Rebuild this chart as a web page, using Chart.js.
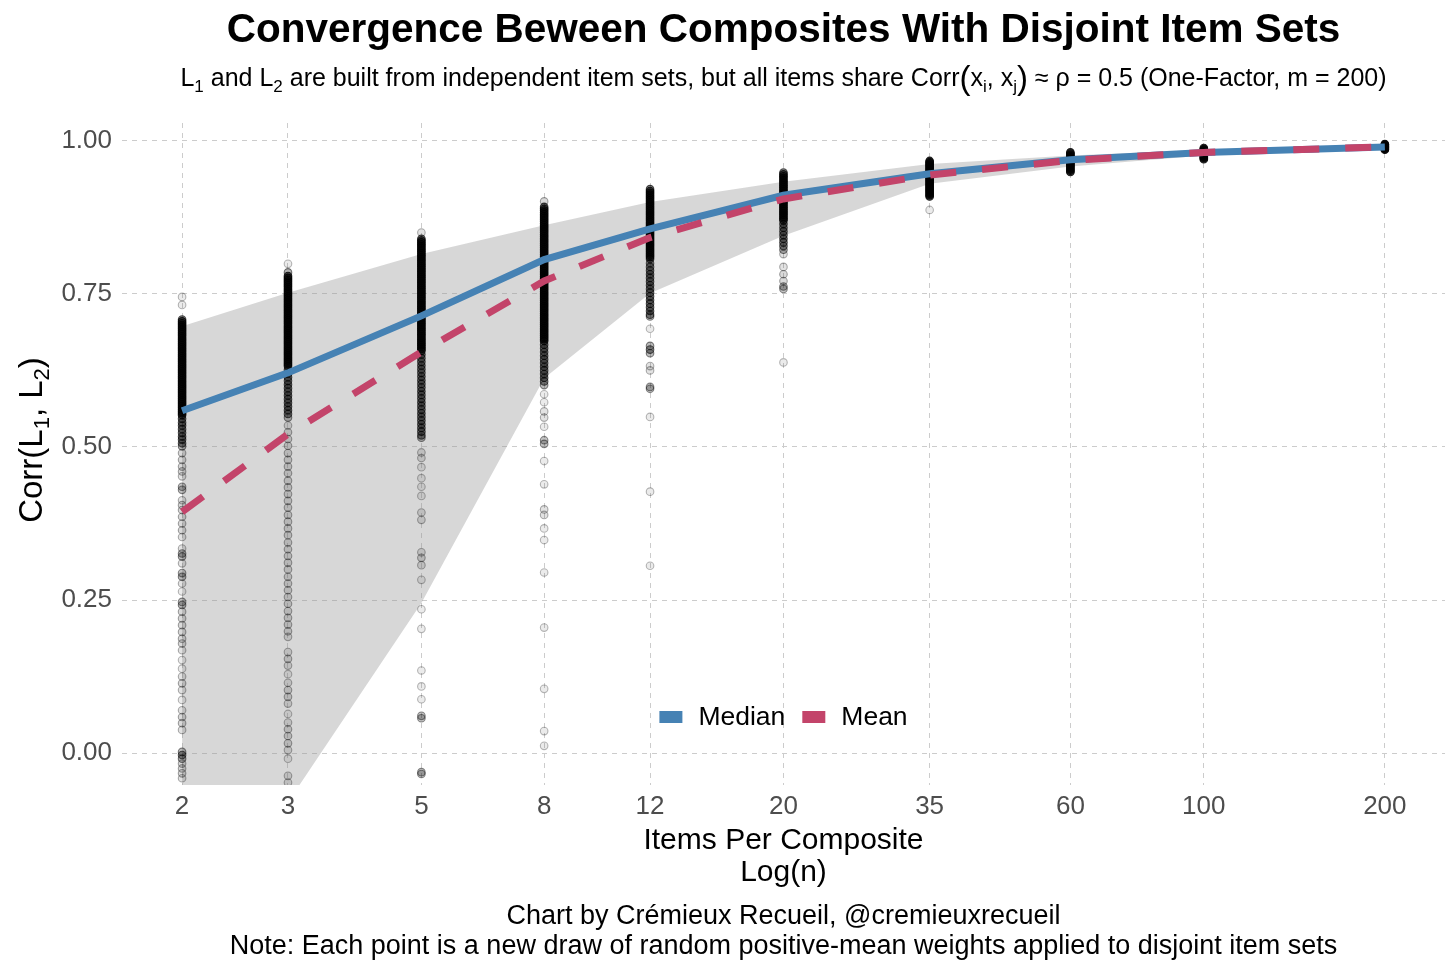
<!DOCTYPE html>
<html>
<head>
<meta charset="utf-8">
<script src="https://cdn.jsdelivr.net/npm/chart.js@4.4.1/dist/chart.umd.min.js"></script>
<style>
  html, body { margin: 0; padding: 0; background: #fff; }
  canvas { display: block; }
</style>
</head>
<body>
<canvas id="chart" width="1456" height="971"></canvas>
<script>
// Items per composite (log x axis) and the summary curves
const itemsPerComposite = [2, 3, 5, 8, 12, 20, 35, 60, 100, 200];
const medianCorr = [0.559, 0.621, 0.714, 0.806, 0.856, 0.911, 0.946, 0.969, 0.981, 0.990];
const meanCorr   = [0.394, 0.521, 0.655, 0.771, 0.842, 0.905, 0.944, 0.968, 0.981, 0.990];
const bandUpper  = [0.697, 0.752, 0.815, 0.862, 0.900, 0.933, 0.962, 0.976, 0.985, 0.993];
const bandLower  = [-0.10, -0.08, 0.245, 0.612, 0.751, 0.845, 0.930, 0.958, 0.976, 0.987];
const yTickValues = [0, 0.25, 0.5, 0.75, 1];

// Individual draws
const draws2 = [0.745, 0.732,
  0.708, 0.705, 0.702, 0.699, 0.696, 0.693, 0.690, 0.687, 0.684, 0.681, 0.678, 0.675, 0.672, 0.669, 0.666, 0.663,
  0.660, 0.657, 0.654, 0.651, 0.648, 0.645, 0.642, 0.639, 0.636, 0.633, 0.630, 0.627, 0.624, 0.621, 0.618, 0.615,
  0.612, 0.609, 0.606, 0.603, 0.600, 0.597, 0.594, 0.591, 0.588, 0.585, 0.582, 0.579, 0.576, 0.573, 0.570, 0.567,
  0.564, 0.561, 0.558, 0.555, 0.552,
  0.546, 0.540, 0.535, 0.529, 0.523, 0.517, 0.512, 0.506, 0.501,
  0.490, 0.479, 0.468, 0.460, 0.452, 0.435, 0.430, 0.413, 0.405, 0.397, 0.386, 0.375, 0.364, 0.353, 0.334, 0.326,
  0.321, 0.310, 0.294, 0.288, 0.277, 0.264, 0.247, 0.242, 0.231, 0.220, 0.209, 0.198, 0.187, 0.179, 0.168, 0.152,
  0.138, 0.125, 0.114, 0.103, 0.087, 0.070, 0.059, 0.049, 0.038, 0.002, -0.003, -0.009, -0.017, -0.025, -0.033, -0.041];

const draws3 = [0.799, 0.785,
  0.779, 0.776, 0.773, 0.770, 0.767, 0.764, 0.761, 0.758, 0.755, 0.752, 0.749, 0.746, 0.743, 0.740, 0.737, 0.734,
  0.731, 0.728, 0.725, 0.722, 0.719, 0.716, 0.713, 0.710, 0.707, 0.704, 0.701, 0.698, 0.695, 0.692, 0.689, 0.686,
  0.683, 0.680, 0.677, 0.674, 0.671, 0.668, 0.665, 0.662, 0.659, 0.656, 0.653, 0.650, 0.647, 0.644, 0.641, 0.638,
  0.635, 0.632,
  0.626, 0.620, 0.614, 0.608, 0.602, 0.596, 0.590, 0.584, 0.578, 0.572, 0.566, 0.560, 0.554, 0.548,
  0.535, 0.524, 0.513, 0.502, 0.490, 0.479, 0.468, 0.457, 0.445, 0.434, 0.423, 0.412, 0.401, 0.389, 0.378, 0.367,
  0.356, 0.344, 0.333, 0.322, 0.311, 0.300, 0.288, 0.277, 0.266, 0.255, 0.244, 0.232, 0.221, 0.210, 0.199, 0.190,
  0.165, 0.154, 0.143, 0.129, 0.115, 0.103, 0.092, 0.081, 0.064, 0.050, 0.039, 0.028, 0.016, 0.005, -0.009, -0.037, -0.048];

const draws5 = [0.850,
  0.840, 0.837, 0.834, 0.831, 0.828, 0.825, 0.822, 0.819, 0.816, 0.813, 0.810, 0.807, 0.804, 0.801, 0.798, 0.795,
  0.792, 0.789, 0.786, 0.783, 0.780, 0.777, 0.774, 0.771, 0.768, 0.765, 0.762, 0.759, 0.756, 0.753, 0.750, 0.747,
  0.744, 0.741, 0.738, 0.735, 0.732, 0.729, 0.726, 0.723, 0.720, 0.717, 0.714, 0.711, 0.708, 0.705, 0.702, 0.699,
  0.696, 0.693, 0.690, 0.687, 0.684, 0.681, 0.678, 0.675, 0.672, 0.669, 0.666, 0.663, 0.660, 0.657,
  0.651, 0.645, 0.639, 0.633, 0.627, 0.621, 0.615, 0.609, 0.603, 0.597, 0.591, 0.585, 0.579, 0.573, 0.567, 0.561,
  0.555, 0.549, 0.543, 0.537, 0.531, 0.525, 0.519, 0.515,
  0.491, 0.482, 0.467, 0.449, 0.435, 0.420, 0.393, 0.381, 0.328, 0.319, 0.307, 0.283, 0.235, 0.203, 0.135, 0.109,
  0.088, 0.061, 0.057, -0.031, -0.034];

const draws8 = [0.901,
  0.892, 0.889, 0.886, 0.883, 0.880, 0.877, 0.874, 0.871, 0.868, 0.865, 0.862, 0.859, 0.856, 0.853, 0.850, 0.847,
  0.844, 0.841, 0.838, 0.835, 0.832, 0.829, 0.826, 0.823, 0.820, 0.817, 0.814, 0.811, 0.808, 0.805, 0.802, 0.799,
  0.796, 0.793, 0.790, 0.787, 0.784, 0.781, 0.778, 0.775, 0.772, 0.769, 0.766, 0.763, 0.760, 0.757, 0.754, 0.751,
  0.748, 0.745, 0.742, 0.739, 0.736, 0.733, 0.730, 0.727, 0.724, 0.721, 0.718, 0.715, 0.712, 0.709, 0.706, 0.703,
  0.700, 0.697, 0.694, 0.691, 0.688, 0.685, 0.682, 0.679, 0.676, 0.673,
  0.667, 0.661, 0.655, 0.649, 0.643, 0.637, 0.631, 0.625, 0.619, 0.613, 0.607, 0.601,
  0.586, 0.573, 0.558, 0.548, 0.533, 0.511, 0.505, 0.477, 0.439, 0.398, 0.389, 0.367, 0.348, 0.295, 0.205, 0.105,
  0.036, 0.012];

const draws12 = [0.921, 0.918, 0.915, 0.912, 0.909, 0.906, 0.903, 0.900, 0.897, 0.894, 0.891, 0.888, 0.885, 0.882,
  0.879, 0.876, 0.873, 0.870, 0.867, 0.864, 0.861, 0.858, 0.855, 0.852, 0.849, 0.846, 0.843, 0.840, 0.837, 0.834,
  0.831, 0.828, 0.825, 0.822, 0.819, 0.816, 0.813, 0.810, 0.807,
  0.800, 0.794, 0.788, 0.782, 0.776, 0.770, 0.764, 0.758, 0.752, 0.746, 0.740, 0.734, 0.728, 0.722, 0.716,
  0.713, 0.693, 0.665, 0.659, 0.653, 0.632, 0.625, 0.598, 0.595, 0.549, 0.427, 0.306];

const draws20 = [0.948, 0.945, 0.942, 0.939, 0.936, 0.933, 0.930, 0.927, 0.924, 0.921, 0.918, 0.915, 0.912, 0.909,
  0.906, 0.903, 0.900, 0.897, 0.894, 0.891, 0.888, 0.885, 0.882, 0.879, 0.876, 0.873, 0.870,
  0.864, 0.858, 0.852, 0.846, 0.840, 0.834, 0.828, 0.822,
  0.815, 0.794, 0.782, 0.771, 0.762, 0.758, 0.638];

const draws35 = [0.967, 0.965, 0.963, 0.961, 0.959, 0.957, 0.955, 0.953, 0.951, 0.949, 0.947, 0.945, 0.943, 0.941,
  0.939, 0.937, 0.935, 0.933, 0.931, 0.929, 0.927, 0.925, 0.923, 0.921, 0.919, 0.917, 0.915, 0.913, 0.911, 0.909,
  0.887];

const draws60 = [0.981, 0.979, 0.977, 0.975, 0.973, 0.971, 0.969, 0.967, 0.965, 0.963, 0.961, 0.959, 0.957, 0.955,
  0.953, 0.951, 0.949];

const draws100 = [0.988, 0.9865, 0.985, 0.9835, 0.982, 0.9805, 0.979, 0.9775, 0.976, 0.9745, 0.973, 0.9715, 0.970];

const draws200 = [0.9945, 0.9935, 0.9925, 0.9915, 0.9905, 0.9895, 0.9885, 0.9875, 0.9865, 0.9855];

const drawsByN = [draws2, draws3, draws5, draws8, draws12, draws20, draws35, draws60, draws100, draws200];

const FONT = "'Liberation Sans', Arial, Helvetica, sans-serif";
const BLUE = '#4682b4';
const RED = '#c3446a';

// semi-transparent points pile up: shade each one by how many draws overlap it
const drawPoints = [];
const nearCount = [];
const wideCount = [];
itemsPerComposite.forEach((n, i) => {
  const col = drawsByN[i];
  col.forEach(v => {
    drawPoints.push({ x: n, y: v });
    nearCount.push(col.filter(w => w !== v && Math.abs(w - v) < 0.0066).length);
    wideCount.push(col.filter(w => w !== v && Math.abs(w - v) < 0.013).length);
  });
});
const shade = (i, base, cap) => Math.min(cap, base + 0.12 * nearCount[i] + 0.035 * wideCount[i]);
const pointFill = ctx => 'rgba(0,0,0,' + shade(ctx.dataIndex, 0.08, 0.6) + ')';
const pointEdge = ctx => 'rgba(0,0,0,' + shade(ctx.dataIndex, 0.28, 0.85) + ')';

const asXY = arr => itemsPerComposite.map((n, i) => ({ x: n, y: arr[i] }));

// text with subscripts: [text, kind] where kind 0 = normal, 1 = subscript, 2 = big bracket
function drawRich(ctx, segs, x, y, size) {
  const fontFor = k => (k === 1 ? Math.round(size * 0.68) : k === 2 ? Math.round(size * 1.3) : size) + 'px ' + FONT;
  let total = 0;
  const widths = segs.map(([t, k]) => {
    ctx.font = fontFor(k);
    const w = ctx.measureText(t).width;
    total += w;
    return w;
  });
  let cx = x - total / 2;
  ctx.textAlign = 'left';
  ctx.textBaseline = 'alphabetic';
  segs.forEach(([t, k], i) => {
    ctx.font = fontFor(k);
    const dy = k === 1 ? size * 0.22 : k === 2 ? size * 0.1 : 0;
    ctx.fillText(t, cx, y + dy);
    cx += widths[i];
  });
}

const textPlugin = {
  id: 'texts',
  afterDraw(chart) {
    const ctx = chart.ctx;
    const area = chart.chartArea;
    const mid = (area.left + area.right) / 2;
    ctx.save();
    ctx.fillStyle = '#000';
    ctx.textAlign = 'center';
    ctx.textBaseline = 'alphabetic';

    ctx.font = 'bold 40.5px ' + FONT;
    ctx.fillText('Convergence Beween Composites With Disjoint Item Sets', mid, 42);

    drawRich(ctx, [
      ['L', 0], ['1', 1], [' and L', 0], ['2', 1],
      [' are built from independent item sets, but all items share Corr', 0],
      ['(', 2], ['x', 0], ['i', 1], [', x', 0], ['j', 1], [')', 2],
      [' \u2248 \u03c1 = 0.5 (One-Factor, m = 200)', 0]
    ], mid, 86, 25);

    // x axis title
    ctx.textAlign = 'center';
    ctx.font = '30px ' + FONT;
    ctx.fillText('Items Per Composite', mid, 849);
    ctx.fillText('Log(n)', mid, 881);

    // caption
    ctx.font = '27px ' + FONT;
    ctx.fillText('Chart by Cr\u00e9mieux Recueil, @cremieuxrecueil', mid, 924);
    ctx.fillText('Note: Each point is a new draw of random positive-mean weights applied to disjoint item sets', mid, 954);

    // y axis title
    ctx.save();
    ctx.translate(30, 440);
    ctx.rotate(-Math.PI / 2);
    drawRich(ctx, [['Corr(L', 0], ['1', 1], [', L', 0], ['2', 1], [')', 0]], 0, 12, 33);
    ctx.restore();

    // legend inside the panel
    const items = [{ label: 'Median', color: BLUE }, { label: 'Mean', color: RED }];
    ctx.font = '26.5px ' + FONT;
    const keyW = 23, keyH = 12, keyGap = 16, itemGap = 17;
    const widths = items.map(it => ctx.measureText(it.label).width);
    const total = items.reduce((s, it, i) => s + keyW + keyGap + widths[i], 0) + itemGap * (items.length - 1);
    let lx = mid - total / 2;
    const ly = 717;
    ctx.textAlign = 'left';
    ctx.textBaseline = 'middle';
    items.forEach((it, i) => {
      ctx.fillStyle = it.color;
      ctx.fillRect(lx, ly - keyH / 2, keyW, keyH);
      lx += keyW + keyGap;
      ctx.fillStyle = '#000';
      ctx.fillText(it.label, lx, ly + 1);
      lx += widths[i] + itemGap;
    });
    ctx.restore();
  }
};

new Chart(document.getElementById('chart'), {
  type: 'line',
  data: {
    datasets: [
      { label: 'Mean', data: asXY(meanCorr), borderColor: RED, borderWidth: 7, borderDash: [26, 26],
        borderCapStyle: 'butt', pointRadius: 0, tension: 0, fill: false, order: 0 },
      { label: 'Median', data: asXY(medianCorr), borderColor: BLUE, borderWidth: 7,
        borderCapStyle: 'butt', pointRadius: 0, tension: 0, fill: false, order: 1 },
      { label: 'Draws', data: drawPoints, showLine: false, pointRadius: 3.8, pointBorderWidth: 1.1,
        pointBackgroundColor: pointFill, pointBorderColor: pointEdge, order: 2 },
      { label: 'Band upper', data: asXY(bandUpper), borderWidth: 0, pointRadius: 0, tension: 0,
        backgroundColor: 'rgba(150,150,150,0.38)', fill: '+1', order: 3 },
      { label: 'Band lower', data: asXY(bandLower), borderWidth: 0, pointRadius: 0, tension: 0,
        fill: false, order: 4 }
    ]
  },
  options: {
    responsive: false,
    animation: false,
    devicePixelRatio: 1,
    events: [],
    layout: { padding: { top: 123, right: 11, bottom: 146, left: 0 } },
    plugins: { legend: { display: false }, tooltip: { enabled: false } },
    scales: {
      x: {
        type: 'logarithmic',
        min: 1.589,
        max: 251.8,
        afterBuildTicks: s => { s.ticks = itemsPerComposite.map(v => ({ value: v })); },
        afterFit: s => { s.height = 40; },
        ticks: { callback: v => String(v), color: '#4d4d4d', font: { family: FONT, size: 26 },
                 padding: 6, autoSkip: false, maxRotation: 0 },
        grid: { color: '#cccccc', lineWidth: 1, drawTicks: false },
        border: { display: false, dash: [5, 5] }
      },
      y: {
        type: 'linear',
        min: -0.052,
        max: 1.029,
        afterBuildTicks: s => { s.ticks = yTickValues.map(v => ({ value: v })); },
        afterFit: s => { s.width = 122; },
        ticks: { callback: v => v.toFixed(2), color: '#4d4d4d', font: { family: FONT, size: 26 }, padding: 10 },
        grid: { color: '#cccccc', lineWidth: 1, drawTicks: false },
        border: { display: false, dash: [5, 5] }
      }
    }
  },
  plugins: [textPlugin]
});
</script>
</body>
</html>
